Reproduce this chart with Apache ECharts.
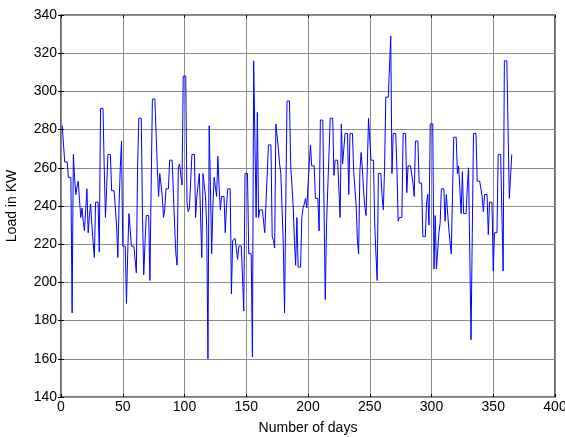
<!DOCTYPE html>
<html>
<head>
  <meta charset="UTF-8">
  <title>Load in KW</title>
  <style>
    html, body { padding: 0; margin: 0; background: #fff; }
    #myChart { width: 565px; height: 437px; }
  </style>
</head>
<body>
  <div id="myChart"></div>
  <script src="https://cdn.jsdelivr.net/npm/echarts@6/dist/echarts.min.js"></script>
  <script>
    // daily load, day 1..365
    const loadA = [282, 282, 263, 263, 263, 255, 255, 255, 184, 267, 255, 246, 250, 253, 243, 234, 239, 232, 227, 238,
      249, 226, 235, 241, 230, 221, 213, 242, 242, 242, 216, 291, 291, 291, 260, 234, 250, 267, 267, 267,
      248, 248, 248, 248, 230, 213, 240, 260];
    const loadB = [274, 219, 219, 219, 189, 215, 236, 228, 219, 219, 219, 212, 205, 260, 286, 286, 286, 234, 204, 220,
      235, 235, 235, 201, 250, 296, 296, 296, 278, 260, 245, 257, 257, 245, 234, 238, 249, 249, 249, 264,
      264, 264, 264, 230, 215, 209, 260, 262, 262, 251, 308, 308, 308, 242, 237, 239];
    const loadC = [240, 267, 267, 267, 234, 245, 251, 257, 257, 213, 257, 257, 245, 229, 160, 282, 250, 215, 240, 255,
      250, 245, 266, 250, 238, 245, 245, 245, 226, 240, 249, 249, 249, 194, 222, 222, 223, 223, 212, 219,
      219, 219, 219, 185, 257, 257, 257, 215, 215, 215, 161, 316, 316];
    const loadD = [234, 289, 234, 238, 238, 238, 232, 226, 242, 242, 272, 272, 272, 224, 222, 218, 283, 283, 270, 262,
      257, 257, 220, 184, 240, 295, 295, 295, 261, 261, 240, 222, 209, 234, 208, 208, 208, 234, 239, 241,
      244, 239, 239, 262, 272, 261, 261, 261, 244, 244, 244, 227, 285];
    const loadE = [285, 285, 285, 191, 230, 249, 249, 286, 286, 286, 256, 264, 264, 264, 264, 234, 283, 262, 270, 278,
      278, 278, 246, 278, 278, 278, 258, 257, 240, 222, 215, 258, 268, 260, 248, 240, 235, 260, 286, 286,
      264, 264, 264, 231, 215, 201, 257, 257, 257, 245, 238, 260];
    const loadF = [297, 297, 297, 297, 329, 257, 278, 278, 278, 260, 232, 234, 234, 234, 278, 278, 278, 247, 261, 261,
      261, 261, 252, 245, 274, 274, 274, 252, 252, 252, 224, 224, 224, 242, 246, 230, 283, 283, 283, 207,
      235, 207, 207, 226, 231, 249, 249, 249, 232, 246, 246];
    const loadG = [228, 228, 215, 245, 276, 276, 276, 257, 261, 261, 236, 258, 236, 236, 236, 250, 260, 260, 170, 225,
      278, 278, 278, 253, 253, 253, 253, 245, 237, 246, 246, 246, 225, 242, 242, 242, 206, 226, 226, 226,
      267, 267, 267, 236, 206, 316, 316, 316, 280, 244, 244, 267];

    const load = [].concat(loadA, loadB, loadC, loadD, loadE, loadF, loadG);
    const points = load.map((v, i) => [i + 1, v]);

    const font = 'Liberation Sans, Arial, Helvetica, sans-serif';
    const tickLabel = { color: '#000', fontFamily: font, fontSize: 14 };

    const myChart = echarts.init(document.getElementById('myChart'));
    const option = {
      backgroundColor: '#fff',
      animation: false,
      grid: {
        left: 61, right: 10, top: 15, bottom: 40,
        outerBoundsMode: 'none',
        containLabel: false,
        show: true,
        borderColor: '#000',
        borderWidth: 1.2,
        backgroundColor: '#fff'
      },
      xAxis: [{
        type: 'value',
        min: 0, max: 400, interval: 50,
        name: 'Number of days',
        nameLocation: 'middle',
        nameGap: 24,
        nameTextStyle: { color: '#000', fontFamily: font, fontSize: 14 },
        axisLine: { show: false },
        axisTick: { show: true, inside: true, length: 3, lineStyle: { color: '#000' } },
        axisLabel: Object.assign({ margin: 3 }, tickLabel),
        splitLine: { show: true, lineStyle: { color: '#8c8c8c', width: 1 } }
      }, {
        type: 'value',
        position: 'top',
        min: 0, max: 400, interval: 50,
        axisLine: { show: false },
        axisTick: { show: true, inside: true, length: 3, lineStyle: { color: '#000' } },
        axisLabel: { show: false },
        splitLine: { show: false }
      }],
      yAxis: [{
        type: 'value',
        min: 140, max: 340, interval: 20,
        name: 'Load in KW',
        nameLocation: 'middle',
        nameGap: 42,
        nameTextStyle: { color: '#000', fontFamily: font, fontSize: 14 },
        axisLine: { show: false },
        axisTick: { show: true, inside: true, length: 3, lineStyle: { color: '#000' } },
        axisLabel: Object.assign({ margin: 4 }, tickLabel),
        splitLine: { show: true, lineStyle: { color: '#8c8c8c', width: 1 } }
      }, {
        type: 'value',
        position: 'right',
        min: 140, max: 340, interval: 20,
        axisLine: { show: false },
        axisTick: { show: true, inside: true, length: 3, lineStyle: { color: '#000' } },
        axisLabel: { show: false },
        splitLine: { show: false }
      }],
      series: [{
        type: 'line',
        data: points,
        showSymbol: false,
        lineStyle: { color: '#0000ff', width: 1 },
        itemStyle: { color: '#0000ff' }
      }]
    };
    myChart.setOption(option);
  </script>
</body>
</html>
